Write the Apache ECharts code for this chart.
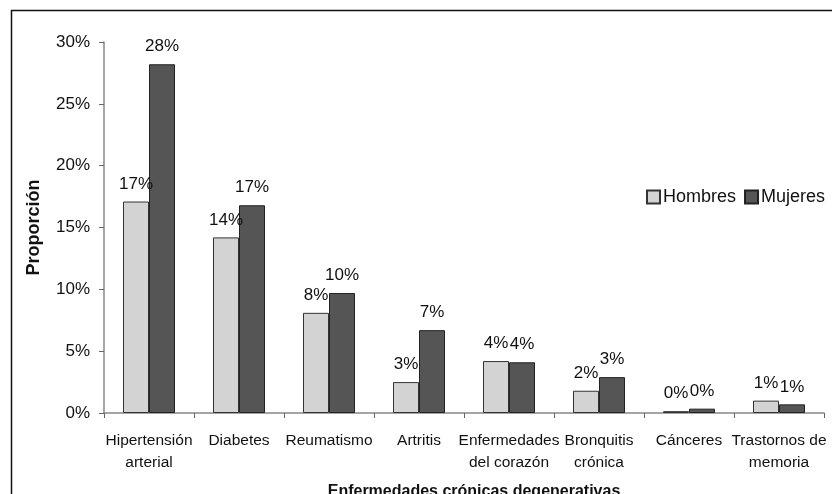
<!DOCTYPE html>
<html>
<head>
<meta charset="utf-8">
<script src="https://cdn.jsdelivr.net/npm/echarts@6/dist/echarts.min.js"></script>
<style>html,body{margin:0;padding:0;background:#fff}#c{width:832px;height:494px}</style>
</head>
<body>
<div id="c"></div>
<script>
var categories = ['Hipertensión\narterial', 'Diabetes', 'Reumatismo', 'Artritis', 'Enfermedades\ndel corazón', 'Bronquitis\ncrónica', 'Cánceres', 'Trastornos de\nmemoria'];
var hombres = [17.1, 14.2, 8.1, 2.5, 4.2, 1.8, 0.15, 1.0];
var mujeres = [28.2, 16.8, 9.7, 6.7, 4.1, 2.9, 0.35, 0.7];
var yTicks = { min: 0, max: 30, interval: 5 };

var FONT = '"Liberation Sans", Arial, sans-serif';
var chart = echarts.init(document.getElementById('c'), null, { renderer: 'canvas' });
var labelFmt = function (p) { return Math.round(p.value) + '%'; };
chart.setOption({
  backgroundColor: '#fff',
  animation: false,
  textStyle: { fontFamily: FONT },
  graphic: [{
    type: 'rect', left: 9, top: 8,
    shape: { width: 840, height: 500 },
    style: { fill: 'none', stroke: '#111', lineWidth: 1.5 },
    silent: true
  }],
  legend: {
    left: 641, top: 183,
    itemWidth: 13, itemHeight: 13, itemGap: 8,
    icon: 'rect',
    textStyle: { fontSize: 18, color: '#111', fontFamily: FONT, padding: [0, 0, 0, -2] },
    data: ['Hombres', 'Mujeres']
  },
  grid: { left: 104, right: 8, top: 42, bottom: 81, containLabel: false, outerBoundsMode: 'none' },
  xAxis: {
    type: 'category',
    data: categories,
    name: 'Enfermedades crónicas degenerativas',
    nameLocation: 'middle',
    nameGap: 71,
    nameTextStyle: { fontSize: 16, fontWeight: 'bold', color: '#111', fontFamily: FONT, padding: [0, 0, 0, 20] },
    axisLine: { lineStyle: { color: '#888', width: 1.5 } },
    axisTick: { show: true, length: 5, lineStyle: { color: '#666' } },
    axisLabel: { interval: 0, fontSize: 15.5, color: '#111', lineHeight: 22, margin: 17, fontFamily: FONT }
  },
  yAxis: {
    type: 'value',
    min: yTicks.min, max: yTicks.max, interval: yTicks.interval,
    name: 'Proporción',
    nameLocation: 'middle',
    nameGap: 61,
    nameTextStyle: { fontSize: 18, fontWeight: 'bold', color: '#111', fontFamily: FONT },
    splitLine: { show: false },
    axisLine: { show: true, lineStyle: { color: '#888', width: 1.5 } },
    axisTick: { show: true, length: 5, lineStyle: { color: '#666' } },
    axisLabel: { formatter: '{value}%', fontSize: 17, color: '#111', margin: 14, fontFamily: FONT }
  },
  series: [{
    name: 'Hombres', type: 'bar', data: hombres,
    barWidth: 26, barGap: '0%',
    itemStyle: { color: '#d3d3d3', borderColor: '#333', borderWidth: 1 },
    label: { show: true, position: 'top', distance: 9, formatter: labelFmt, fontSize: 17, color: '#111', fontFamily: FONT }
  }, {
    name: 'Mujeres', type: 'bar', data: mujeres,
    barWidth: 26, barGap: '0%',
    itemStyle: { color: '#555555', borderColor: '#222', borderWidth: 1 },
    label: { show: true, position: 'top', distance: 9, formatter: labelFmt, fontSize: 17, color: '#111', fontFamily: FONT }
  }]
});
</script>
</body>
</html>
